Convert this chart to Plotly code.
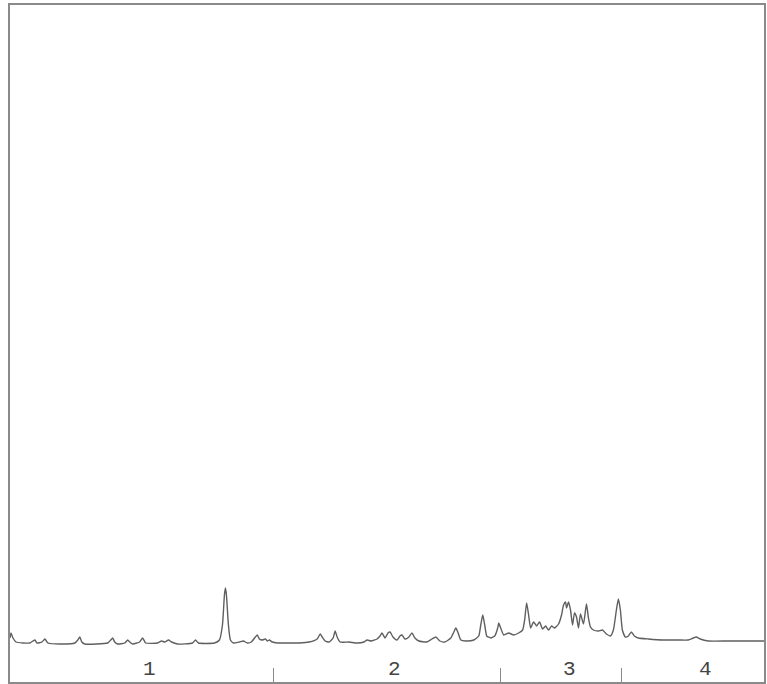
import plotly.graph_objects as go

# Retention position (chart units) and detector signal
trace_x = [10, 11, 13, 16, 30, 33, 35, 37, 42, 45, 48, 60, 75, 78, 80, 82, 85,
           108, 111, 113, 115, 118, 125, 128, 130, 133, 140, 143, 146, 158, 162,
           165, 169, 172, 178, 193, 196, 199, 215, 220, 223, 225, 226, 227, 229,
           231, 234, 240, 244, 248, 252, 256, 258, 260, 263, 266, 268, 270, 273,
           278, 290, 300, 310, 318, 321, 323, 326, 330, 334, 336, 338, 341, 350,
           358, 365, 368, 372, 378, 381, 383, 386, 389, 391, 394, 398, 401, 403,
           406, 410, 413, 416, 420, 428, 433, 437, 441, 446, 452, 455, 457, 459,
           462, 467, 475, 480, 482, 484, 486, 488, 492, 496, 499, 500, 502, 505,
           510, 515, 520, 524, 526, 528, 530, 532, 535, 538, 541, 544, 547, 550,
           553, 556, 560, 563, 565, 567, 568, 570, 572, 574, 576, 578, 580, 582,
           585, 588, 590, 592, 595, 600, 604, 608, 612, 615, 618, 620, 622, 624,
           627, 630, 633, 636, 640, 650, 665, 680, 690, 695, 698, 702, 710, 730,
           750, 766]
trace_y = [44, 49, 44, 40, 39, 41, 42, 39, 40, 43, 39, 38, 39, 42, 45, 40, 38,
           39, 42, 44, 40, 38, 39, 42, 40, 38, 40, 44, 39, 39, 41,
           40, 42, 40, 38, 39, 42, 39, 39, 42, 57, 87, 94, 87, 57,
           42, 39, 40, 41, 39, 40, 45, 47, 43, 42, 43, 41, 42, 40,
           39, 39, 39, 40, 43, 48, 45, 41, 40, 44, 51, 45, 40, 40,
           39, 40, 42, 41, 43, 46, 49, 44, 49, 50, 45, 42, 46, 47,
           43, 45, 49, 44, 41, 40, 43, 45, 41, 40, 44, 50, 54, 50,
           42, 41, 42, 46, 57, 67, 57, 46, 44, 46, 54, 59, 54, 47,
           49, 47, 49, 52, 62, 79, 67, 54, 60, 56, 60, 53, 56, 52,
           56, 54, 58, 67, 77, 80, 74, 80, 72, 57, 69, 65, 54, 68,
           58, 78, 64, 55, 52, 51, 52, 48, 46, 52, 72, 83, 72, 52,
           45, 46, 50, 46, 44, 43, 42, 42, 42, 44, 45, 43, 41, 41,
           41, 41]

section_bounds = [274, 502, 623]
section_centers = [150, 396, 571, 707]
section_labels = ["1", "2", "3", "4"]

fig = go.Figure()
fig.add_trace(go.Scatter(x=trace_x, y=trace_y, mode="lines",
                         line=dict(color="#5f5f5f", width=1.4, shape="spline",
                                   smoothing=0.5),
                         hoverinfo="skip", showlegend=False))

for cx, lab in zip(section_centers, section_labels):
    fig.add_annotation(x=cx, y=13, xref="x", yref="y", text=lab,
                       showarrow=False,
                       font=dict(family="Liberation Mono", size=21, color="#444444"))

fig.update_layout(
    width=767, height=684,
    margin=dict(l=10, r=1, t=5, b=2),
    paper_bgcolor="white", plot_bgcolor="white",
    xaxis=dict(range=[10, 766], showgrid=False, zeroline=False,
               showline=True, mirror=True, linecolor="#8a8a8a", linewidth=1.5,
               tickvals=section_bounds, ticks="inside", ticklen=14,
               tickcolor="#8a8a8a", tickwidth=1.2, showticklabels=False),
    yaxis=dict(range=[0, 677], showgrid=False, zeroline=False,
               showline=True, mirror=True, linecolor="#8a8a8a", linewidth=1.5,
               showticklabels=False, ticks=""),
)

fig.write_html("out.html",
               config={"displayModeBar": False},
               post_script="document.body.style.margin='0';document.body.style.overflow='hidden';")
